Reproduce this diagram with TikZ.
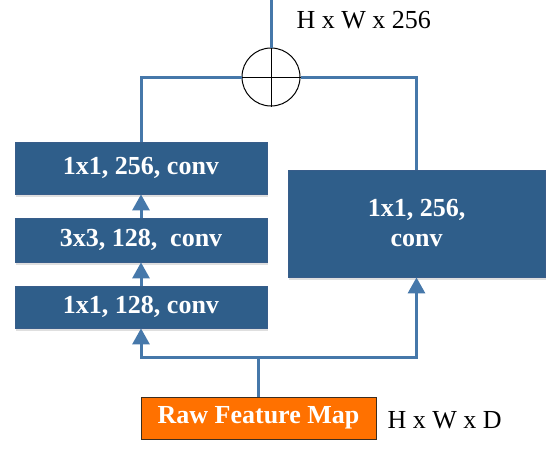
\documentclass[tikz,border=0pt]{standalone}
\usepackage{fontspec}
\setmainfont{Liberation Serif}
\usepackage{xcolor}
\usepackage{tikz}
\usetikzlibrary{arrows.meta, positioning, shadows}

\definecolor{convblue}{RGB}{47,94,138}
\definecolor{convedge}{RGB}{56,93,138}
\definecolor{linkblue}{RGB}{70,120,170}
\definecolor{rawfill}{RGB}{255,113,0}
\definecolor{rawedge}{RGB}{60,45,30}

\begin{document}
\begin{tikzpicture}[x=1pt, y=-1pt,
    every node/.style={font=\fontsize{26}{30}\selectfont},
    convbox/.style={draw=convedge, fill=convblue, text=white, font=\fontsize{26}{30}\selectfont\bfseries,
      line width=0.8pt, align=center, drop shadow={shadow xshift=1pt, shadow yshift=-2.5pt, opacity=0.25}},
    link/.style={draw=linkblue, line width=3pt},
    linkarrow/.style={link, -{Triangle[width=17pt, length=16pt]}}]
    \useasboundingbox (0,0) rectangle (558,451);
    \node[convbox, minimum width=252pt, minimum height=52pt] (conv3) at (141,168) {1x1, 256, conv};
    \node[convbox, minimum width=252pt, minimum height=44pt] (conv2) at (141,240) {3x3, 128,~ conv};
    \node[convbox, minimum width=252pt, minimum height=42pt] (conv1) at (141,307) {1x1, 128, conv};
    \node[convbox, minimum width=257pt, minimum height=107pt] (proj) at (416.5,223.5) {1x1, 256,\\conv};
    \node[draw=rawedge, fill=rawfill, text=white, font=\fontsize{26}{30}\selectfont\bfseries, line width=1pt,
      minimum width=235pt, minimum height=42pt] (raw) at (258.5,418) {Raw Feature Map};
    \node[anchor=west] (rawdim) at (384,420) {H x W x D};
    \node[draw, circle, line width=1pt, minimum size=58pt, inner sep=0pt] (sum) at (271,77) {};
    \node[anchor=west] (outdim) at (293,20) {H x W x 256};
    \coordinate (out) at (271,0);
    \coordinate (split) at (258.5,357);
    \draw[line width=1pt] (sum.north) -- (sum.south) (sum.west) -- (sum.east);
    \draw[link] (raw.north) -- (split);
    \draw[linkarrow] (split) -| (conv1.south);
    \draw[linkarrow] (split) -| (proj.south);
    \draw[linkarrow] (conv1) -- (conv2);
    \draw[linkarrow] (conv2) -- (conv3);
    \draw[link] (conv3.north) |- (sum.west);
    \draw[link] (proj.north) |- (sum.east);
    \draw[link] (sum.north) -- (out);
  \end{tikzpicture}
\end{document}
